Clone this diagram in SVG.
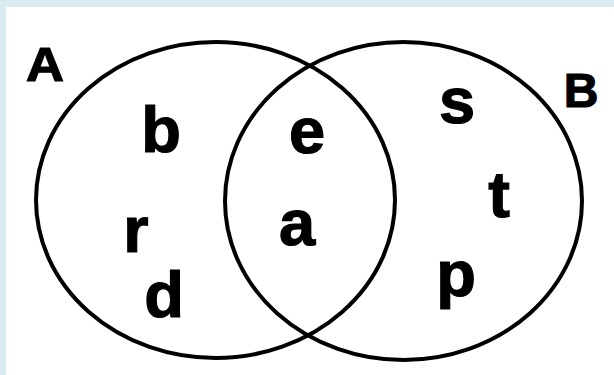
<svg xmlns="http://www.w3.org/2000/svg" width="614" height="375" viewBox="0 0 614 375">
<style>
.set{fill:none;stroke:#000;stroke-width:4}
.lbl{font-family:"Liberation Sans",Arial,sans-serif;font-weight:bold;fill:#000;stroke:#000;stroke-width:1.2;text-anchor:middle}
.big{font-size:48px}
.el{font-size:65px}
</style>
<rect x="0" y="0" width="614" height="375" fill="#daecf2"/>
<rect x="6" y="7" width="608" height="368" fill="#ffffff"/>
<g id="setA">
<ellipse class="set" cx="215.5" cy="200" rx="179.5" ry="158"/>
<text class="lbl big" x="45" y="81" textLength="38" lengthAdjust="spacingAndGlyphs">A</text>
</g>
<g id="setB">
<ellipse class="set" cx="403.5" cy="201" rx="178.5" ry="159"/>
<text class="lbl big" x="581" y="107">B</text>
</g>
<g id="elements">
<text class="lbl el" x="161" y="152">b</text>
<text class="lbl el" x="136" y="252">r</text>
<text class="lbl el" x="164" y="317">d</text>
<text class="lbl el" x="307" y="153">e</text>
<text class="lbl el" x="297" y="245">a</text>
<text class="lbl el" x="457" y="123">s</text>
<text class="lbl el" x="499" y="217">t</text>
<text class="lbl el" x="456" y="296">p</text>
</g>
</svg>
